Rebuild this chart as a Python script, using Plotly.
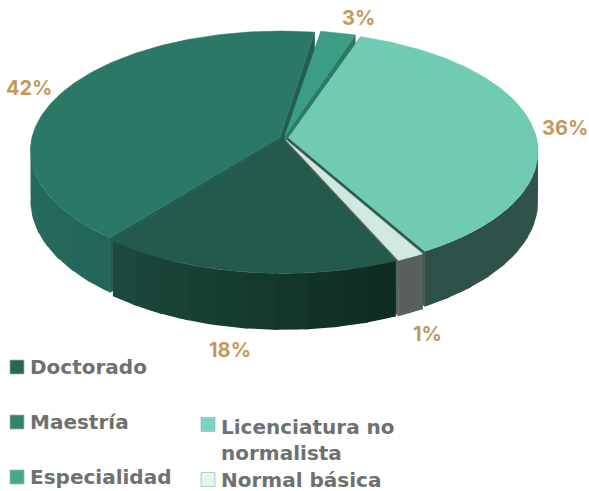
import math
import plotly.graph_objects as go

# ---- data (drawing order = clockwise from the start angle)
categories = ["Especialidad", "Licenciatura no normalista", "Normal básica", "Doctorado", "Maestría"]
shares = [2.5, 36.5, 1.6, 17.4, 41.7]           # slice sizes
pct_labels = ["3%", "36%", "1%", "18%", "42%"]  # printed labels

# ---- styles / layout
START = 9.3
GAP_AFTER = {"Especialidad": 0.6}
CX, CY, RX, RY, K, DEPTH, EXPLODE = 284.0, 138.0, 248.0, 118.0, 0.111, 50.0, 0.018
top_col = {"Especialidad": "#3c9d85", "Licenciatura no normalista": "#71cbb2", "Normal básica": "#cfe9e0",
           "Doctorado": "#245a4b", "Maestría": "#2b7866"}
cut_col = {"Especialidad": "#2a7a66", "Licenciatura no normalista": "#2f5e52", "Normal básica": "#5c615f",
           "Doctorado": "#1c4a3e", "Maestría": "#235f50"}
wall_cols = {"Especialidad": ("#2a7a66", "#2a7a66"), "Licenciatura no normalista": ("#34564e", "#2e5048"),
             "Normal básica": ("#585f5c", "#585f5c"), "Doctorado": ("#0e2a20", "#1d4a3f"),
             "Maestría": ("#24655a", "#2b7c68")}
legend_cols = {"Doctorado": "#2a6555", "Maestría": "#35826e", "Especialidad": "#43a98f",
               "Licenciatura no normalista": "#7bd5bf", "Normal básica": "#dff8f0"}
paint_order = ["Maestría", "Especialidad", "Licenciatura no normalista", "Normal básica", "Doctorado"]
label_xy = {"3%": (358, 18), "36%": (565, 128), "1%": (427, 334), "18%": (230, 350), "42%": (29, 88)}
legend_items = [("Doctorado", 17, 367, 28, "Doctorado"),
                ("Maestría", 17, 422, 28, "Maestría"),
                ("Especialidad", 17, 477, 28, "Especialidad"),
                ("Licenciatura no normalista", 208, 424.5, 219, "Licenciatura no<br>normalista"),
                ("Normal básica", 208, 479.5, 219, "Normal básica")]
TEXT = "#6f7070"
GOLD = "#c19a5b"
FONT = "DejaVu Sans"


def project(u, v, down=False):
    s = 1 / (1 - K * v)
    return CX + RX * u * s, CY + RY * v * s + (DEPTH * s if down else 0)


def rim(a, off=(0, 0), r=1.0):
    t = math.radians(a)
    return off[0] + r * math.sin(t), off[1] - r * math.cos(t)


def mix(c1, c2, f):
    a = [int(c1[i:i + 2], 16) for i in (1, 3, 5)]
    b = [int(c2[i:i + 2], 16) for i in (1, 3, 5)]
    return "#%02x%02x%02x" % tuple(round(x + (y - x) * f) for x, y in zip(a, b))


fig = go.Figure()


def poly(points, color, lw=0.6):
    xs = [p[0] for p in points] + [points[0][0]]
    ys = [p[1] for p in points] + [points[0][1]]
    fig.add_trace(go.Scatter(x=xs, y=ys, mode="lines", fill="toself", fillcolor=color,
                             line=dict(color=color, width=lw), hoverinfo="skip", showlegend=False))


spans = {}
a = START
for name, share in zip(categories, shares):
    spans[name] = (a, a + share * 3.6)
    a += share * 3.6 + GAP_AFTER.get(name, 0)

for name in paint_order:
    a0, a1 = spans[name]
    mid = (a0 + a1) / 2
    off = rim(mid, r=EXPLODE)
    # radial cut faces
    for edge in (a0, a1):
        e = rim(edge, off)
        poly([project(*off), project(*e), project(*e, True), project(*off, True)], cut_col[name])
    # outer wall, in facets: only the part turned towards the viewer
    n = max(2, int((a1 - a0) / 6))
    c0, c1 = wall_cols[name]
    for i in range(n):
        b0, b1 = a0 + (a1 - a0) * i / n, a0 + (a1 - a0) * min(i + 1.15, n) / n
        m = 8
        arc = [rim(b0 + (b1 - b0) * j / m, off) for j in range(m + 1)]
        if max(p[1] for p in arc) <= 0:
            continue
        pts = [project(*p) for p in arc] + [project(*p, True) for p in reversed(arc)]
        poly(pts, mix(c0, c1, (i + 0.5) / n), lw=0)
    # top face
    steps = max(4, int(a1 - a0))
    arc = [rim(a0 + (a1 - a0) * j / steps, off) for j in range(steps + 1)]
    poly([project(*off)] + [project(*p) for p in arc], top_col[name])

for name, pct in zip(categories, pct_labels):
    x, y = label_xy[pct]
    fig.add_annotation(x=x, y=y, text=pct, showarrow=False, xanchor="center", yanchor="middle",
                       font=dict(family="Inter", size=20, color=GOLD, weight=700))

fig.add_trace(go.Scatter(x=[i[1] for i in legend_items], y=[i[2] for i in legend_items], mode="markers",
                         marker=dict(symbol="square", size=14, color=[legend_cols[i[0]] for i in legend_items],
                                     line=dict(color="#a8b5b0", width=0.7)),
                         hoverinfo="skip", showlegend=False))
for name, mx, my, tx, txt in legend_items:
    two = "<br>" in txt
    fig.add_annotation(x=tx, y=my - 12 if two else my, text=txt, showarrow=False, xanchor="left",
                       yanchor="top" if two else "middle", align="left",
                       font=dict(family=FONT, size=20, color=TEXT, weight=700))

fig.update_layout(width=589, height=491, margin=dict(l=0, r=0, t=0, b=0), paper_bgcolor="white",
                  plot_bgcolor="white", showlegend=False,
                  xaxis=dict(range=[0, 589], visible=False, fixedrange=True),
                  yaxis=dict(range=[491, 0], visible=False, fixedrange=True))
fig.write_html("out.html", config={"displayModeBar": False},
               post_script="document.body.style.margin='0';document.body.style.overflow='hidden';")
